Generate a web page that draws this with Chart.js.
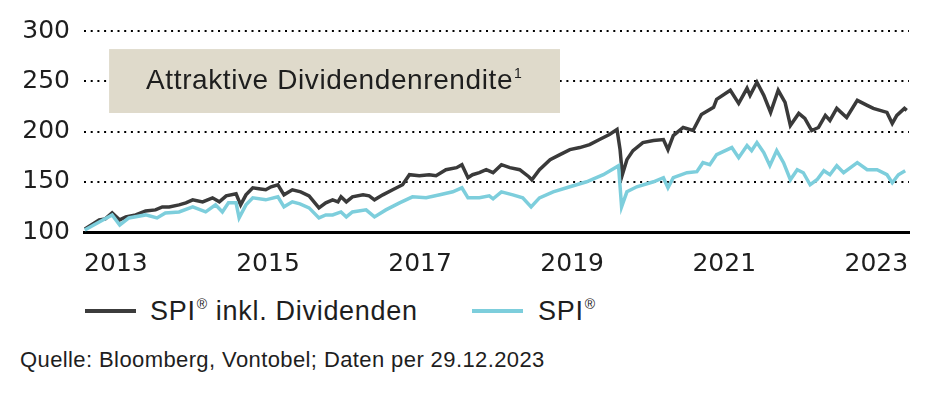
<!DOCTYPE html>
<html>
<head>
<meta charset="utf-8">
<script src="https://cdn.jsdelivr.net/npm/chart.js@4.4.1/dist/chart.umd.min.js"></script>
<style>
  body { margin: 0; background: #fff; font-family: "Liberation Sans", Arial, sans-serif; color: #1e1e1e; }
  #wrap { position: relative; width: 945px; height: 402px; overflow: hidden; }
  #box { position: absolute; left: 0; top: 0; width: 945px; height: 290px; }
  .swatch { position: absolute; height: 4px; width: 51px; top: 309px; }
  .leg { position: absolute; top: 296px; font-size: 27px; line-height: 30px; letter-spacing: 0.7px; white-space: nowrap; }
  .leg sup { font-size: 52%; vertical-align: 0; position: relative; top: -0.8em; margin-left: 1px; }
  #src { position: absolute; left: 20px; top: 347px; font-size: 22px; line-height: 26px; letter-spacing: 0.4px; white-space: nowrap; }
</style>
</head>
<body>
<div id="wrap">
  <div id="box"><canvas id="chart"></canvas></div>
  <div class="swatch" style="left:85px;background:#3c3c3c"></div>
  <div class="leg" style="left:150px">SPI<sup>®</sup> inkl. Dividenden</div>
  <div class="swatch" style="left:472px;background:#7dcedc"></div>
  <div class="leg" style="left:538px">SPI<sup>®</sup></div>
  <div id="src">Quelle: Bloomberg, Vontobel; Daten per 29.12.2023</div>
</div>
<script>
// Jahresachse (Label jeweils Jahresmitte)
const tickYears = [2013, 2015, 2017, 2019, 2021, 2023];

// SPI inkl. Dividenden (indexiert, 100 = Start)
const divYears = [2013.09, 2013.28, 2013.36, 2013.45, 2013.55, 2013.63, 2013.76, 2013.89, 2014.02, 2014.11,
  2014.20, 2014.33, 2014.42, 2014.51, 2014.64, 2014.77, 2014.86, 2014.95, 2015.08, 2015.14,
  2015.21, 2015.30, 2015.38, 2015.47, 2015.54, 2015.63, 2015.71, 2015.82, 2015.93, 2016.04,
  2016.17, 2016.26, 2016.35, 2016.42, 2016.46, 2016.53, 2016.61, 2016.75, 2016.83, 2016.90,
  2017.01, 2017.14, 2017.27, 2017.36, 2017.49, 2017.62, 2017.71, 2017.84, 2017.98, 2018.05,
  2018.13, 2018.19, 2018.28, 2018.37, 2018.46, 2018.57, 2018.68, 2018.81, 2018.93, 2018.97,
  2019.07, 2019.21, 2019.34, 2019.47, 2019.60, 2019.73, 2019.86, 2019.99, 2020.09, 2020.13,
  2020.16, 2020.22, 2020.30, 2020.43, 2020.57, 2020.70, 2020.76, 2020.83, 2020.96, 2021.09,
  2021.20, 2021.36, 2021.40, 2021.58, 2021.69, 2021.80, 2021.84, 2021.93, 2022.02, 2022.11,
  2022.21, 2022.30, 2022.37, 2022.48, 2022.56, 2022.65, 2022.74, 2022.83, 2022.89, 2022.98,
  2023.11, 2023.25, 2023.38, 2023.46, 2023.64, 2023.71, 2023.77, 2023.87, 2023.90];
const divValues = [103, 112, 113, 119, 112, 115, 117, 121, 122, 125,
  125, 127, 129, 132, 130, 134, 130, 136, 138, 127,
  137, 144, 143, 142, 145, 147, 137, 142, 140, 136,
  124, 129, 132, 130, 135, 130, 135, 137, 136, 132,
  137, 142, 147, 157, 156, 157, 156, 162, 164, 167,
  154, 157, 159, 162, 159, 167, 164, 162, 155, 152,
  162, 172, 177, 182, 184, 187, 192, 197, 202, 182,
  157, 172, 181, 189, 191, 192, 182, 196, 204, 201,
  217, 224, 232, 241, 228, 243, 236, 249, 236, 219,
  241, 229, 206, 218, 213, 201, 204, 216, 211, 223,
  214, 231, 226, 223, 219, 208, 216, 223, 221];

// SPI (Kursindex)
const spiYears = [2013.09, 2013.28, 2013.45, 2013.55, 2013.67, 2013.89, 2014.04, 2014.15, 2014.33, 2014.51,
  2014.68, 2014.81, 2014.90, 2014.98, 2015.08, 2015.12, 2015.21, 2015.30, 2015.47, 2015.63,
  2015.71, 2015.82, 2015.92, 2016.04, 2016.17, 2016.26, 2016.35, 2016.46, 2016.53, 2016.61,
  2016.79, 2016.90, 2017.05, 2017.23, 2017.40, 2017.58, 2017.76, 2017.93, 2018.05, 2018.13,
  2018.28, 2018.41, 2018.46, 2018.57, 2018.72, 2018.85, 2018.96, 2019.07, 2019.25, 2019.47,
  2019.69, 2019.91, 2020.11, 2020.15, 2020.22, 2020.35, 2020.57, 2020.70, 2020.76, 2020.83,
  2021.01, 2021.14, 2021.22, 2021.31, 2021.40, 2021.60, 2021.69, 2021.80, 2021.86, 2021.93,
  2022.02, 2022.10, 2022.19, 2022.28, 2022.37, 2022.46, 2022.54, 2022.63, 2022.72, 2022.81,
  2022.89, 2022.98, 2023.07, 2023.25, 2023.38, 2023.51, 2023.64, 2023.71, 2023.79, 2023.88];
const spiValues = [102, 110, 117, 107, 114, 117, 114, 119, 120, 125,
  120, 127, 120, 129, 129, 114, 127, 134, 132, 135,
  125, 130, 128, 124, 114, 117, 117, 120, 115, 120,
  122, 115, 122, 129, 135, 134, 137, 140, 144, 134,
  134, 136, 133, 140, 137, 134, 125, 134, 140, 145,
  150, 157, 166, 125, 140, 145, 150, 154, 144, 154,
  159, 160, 169, 167, 177, 184, 174, 186, 181, 189,
  179, 166, 181, 169, 152, 162, 159, 147, 152, 161,
  157, 166, 159, 169, 162, 162, 157, 149, 157, 161];

const tickFont = { family: '"DejaVu Sans", sans-serif', size: 25 };

const annotationBox = {
  id: 'annotationBox',
  beforeDatasetsDraw(chart) {
    const { ctx, scales: { x, y } } = chart;
    const left = x.getPixelForValue(2013.41), right = x.getPixelForValue(2019.34);
    const top = y.getPixelForValue(282), bottom = y.getPixelForValue(218.4);
    const mid = y.getPixelForValue(250);
    ctx.save();
    ctx.fillStyle = '#dfdacb';
    ctx.fillRect(left, top, right - left, bottom - top);
    ctx.fillStyle = '#1e1e1e';
    ctx.font = '28px "Liberation Sans", Arial, sans-serif';
    ctx.letterSpacing = '0.6px';
    ctx.textBaseline = 'middle';
    ctx.fillText('Attraktive Dividendenrendite', left + 37, mid);
    const w = ctx.measureText('Attraktive Dividendenrendite').width;
    ctx.font = '14px "Liberation Sans", Arial, sans-serif';
    ctx.fillText('1', left + 38 + w, mid - 7);
    ctx.restore();
  }
};

const toPoints = (xs, ys) => xs.map((v, i) => ({ x: v, y: ys[i] }));

new Chart(document.getElementById('chart'), {
  type: 'line',
  data: {
    datasets: [
      {
        label: 'SPI® inkl. Dividenden',
        data: toPoints(divYears, divValues),
        borderColor: '#3a3a3a',
        borderWidth: 3.5,
        pointRadius: 0,
        tension: 0,
        order: 1
      },
      {
        label: 'SPI®',
        data: toPoints(spiYears, spiValues),
        borderColor: '#7dcedc',
        borderWidth: 3.5,
        pointRadius: 0,
        tension: 0,
        order: 0
      }
    ]
  },
  options: {
    responsive: true,
    maintainAspectRatio: false,
    animation: false,
    devicePixelRatio: 1,
    layout: { padding: { top: 31, right: 36, left: 0, bottom: 0 } },
    plugins: { legend: { display: false }, tooltip: { enabled: false } },
    scales: {
      x: {
        type: 'linear',
        min: 2013.08,
        max: 2023.93,
        afterBuildTicks: (scale) => { scale.ticks = tickYears.map(v => ({ value: v + 0.5 })); },
        afterFit: (scale) => { scale.height = 58; },
        grid: { display: false, drawTicks: false },
        border: { display: true, color: '#000', width: 3 },
        ticks: {
          autoSkip: false,
          maxRotation: 0,
          padding: 17,
          color: '#1e1e1e',
          font: tickFont,
          callback: (v) => String(Math.floor(v))
        }
      },
      y: {
        min: 100,
        max: 300,
        afterFit: (scale) => { scale.width = 84; },
        grid: {
          drawTicks: false,
          lineWidth: 2,
          color: (c) => (c.tick && c.tick.value === 100 ? 'rgba(0,0,0,0)' : '#000')
        },
        border: { display: false, dash: [2, 4.7] },
        ticks: {
          stepSize: 50,
          padding: 14,
          color: '#1e1e1e',
          font: tickFont
        }
      }
    }
  },
  plugins: [annotationBox]
});
</script>
</body>
</html>
